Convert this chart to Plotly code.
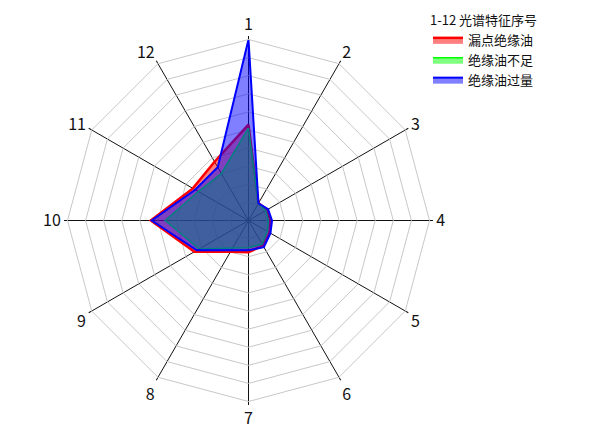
import plotly.graph_objects as go

categories = [str(i) for i in range(1, 13)]
series_names = ["漏点绝缘油", "绝缘油不足", "绝缘油过量"]
leak_values = [5.3, 1.1, 1.2, 1.2, 1.35, 1.6, 1.75, 2.0, 3.45, 5.4, 3.55, 3.75]
short_values = [5.1, 1.1, 1.1, 1.1, 1.2, 1.5, 1.5, 1.75, 3.15, 4.6, 3.2, 3.0]
excess_values = [10.0, 1.1, 1.25, 1.3, 1.4, 1.7, 1.65, 1.9, 3.3, 5.35, 3.4, 3.4]
legend_title = "1-12 光谱特征序号"

line_colors = ["red", "lime", "blue"]
fill_colors = ["rgba(255,0,0,0.5)", "rgba(0,255,0,0.5)", "rgba(0,0,255,0.5)"]
widths = [2.5, 1.5, 2]

font_family = "Noto Sans CJK SC, Noto Sans, sans-serif"

# page body adds an 8px offset; figure sized to fit the window
W, H = 592, 426
cx, cy, R = 240.5, 212.5, 181

fig = go.Figure()
for name, vals, lc, fc, w in zip(series_names, [leak_values, short_values, excess_values],
                                  line_colors, fill_colors, widths):
    fig.add_trace(go.Scatterpolar(
        r=vals + vals[:1],
        theta=categories + categories[:1],
        mode="lines",
        fill="toself",
        fillcolor=fc,
        line=dict(color=lc, width=w),
        name=name,
    ))

fig.update_layout(
    width=W, height=H,
    margin=dict(l=0, r=0, t=0, b=0, autoexpand=False),
    paper_bgcolor="white",
    font=dict(family=font_family, color="#111"),
    polar=dict(
        domain=dict(x=[(cx - R) / W, (cx + R) / W], y=[1 - (cy + R) / H, 1 - (cy - R) / H]),
        bgcolor="white",
        gridshape="linear",
        radialaxis=dict(range=[0, 10], dtick=1, showticklabels=False, ticks="",
                        showline=False, gridcolor="#c8c8c8", gridwidth=1, angle=90),
        angularaxis=dict(rotation=90, direction="clockwise", categoryorder="array",
                         categoryarray=categories,
                         gridcolor="#111", gridwidth=1,
                         showline=True, linecolor="#c8c8c8",
                         ticks="outside", ticklen=3, tickcolor="#111",
                         tickfont=dict(size=16, color="#111")),
    ),
    legend=dict(
        title=dict(text=legend_title, font=dict(size=13)),
        x=420 / W, xanchor="left", y=1.0, yanchor="top",
        font=dict(size=13),
        bgcolor="rgba(0,0,0,0)",
        tracegroupgap=0,
    ),
)

fig.write_html("out.html")
